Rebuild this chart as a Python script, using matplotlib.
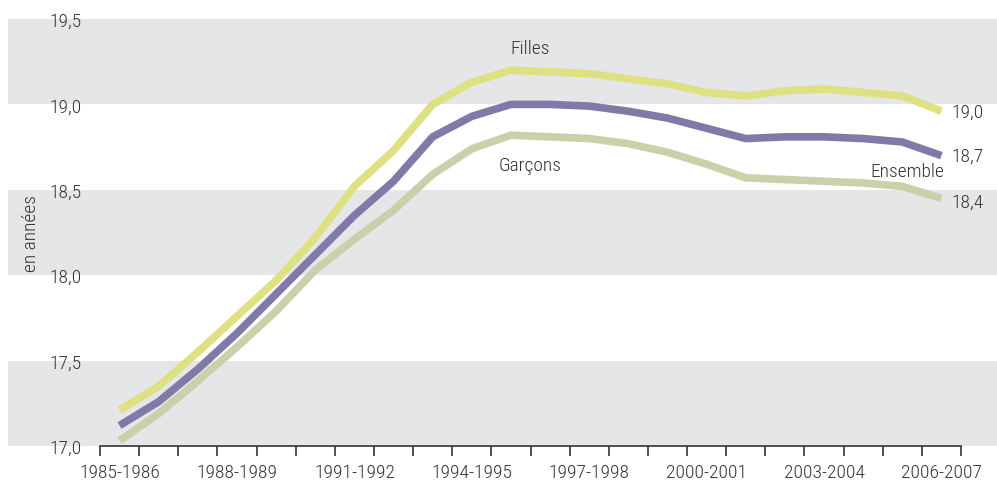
import numpy as np
import matplotlib.pyplot as plt
from matplotlib import font_manager

# police étroite si disponible
noms = {(f.name, f.stretch) for f in font_manager.fontManager.ttflist}
famille, etroit = 'DejaVu Sans', 'normal'
for nom in ['Liberation Sans Narrow', 'Roboto Condensed', 'Open Sans Condensed', 'DejaVu Sans', 'Roboto']:
    st = [s for (n, s) in noms if n == nom]
    cond = [s for s in st if s not in ('normal', 400, 500)]
    if nom in ('Liberation Sans Narrow', 'Roboto Condensed', 'Open Sans Condensed') and st:
        famille, etroit = nom, 'normal'
        break
    if cond:
        famille, etroit = nom, cond[0]
        break
plt.rcParams['font.family'] = [famille, 'DejaVu Sans']
plt.rcParams['font.stretch'] = etroit
plt.rcParams['font.weight'] = 'light'
plt.rcParams['axes.labelweight'] = 'light'

# années scolaires
annees = ['1985-1986', '1986-1987', '1987-1988', '1988-1989', '1989-1990', '1990-1991',
          '1991-1992', '1992-1993', '1993-1994', '1994-1995', '1995-1996', '1996-1997',
          '1997-1998', '1998-1999', '1999-2000', '2000-2001', '2001-2002', '2002-2003',
          '2003-2004', '2004-2005', '2005-2006', '2006-2007']

filles = [17.21, 17.35, 17.55, 17.76, 17.97, 18.22, 18.52, 18.73, 19.00, 19.13, 19.20,
          19.19, 19.18, 19.15, 19.12, 19.07, 19.05, 19.08, 19.09, 19.07, 19.05, 18.96]
ensemble = [17.12, 17.26, 17.45, 17.66, 17.89, 18.12, 18.35, 18.55, 18.81, 18.93, 19.00,
            19.00, 18.99, 18.96, 18.92, 18.86, 18.80, 18.81, 18.81, 18.80, 18.78, 18.70]
garcons = [17.03, 17.19, 17.38, 17.58, 17.79, 18.03, 18.21, 18.38, 18.59, 18.74, 18.82,
           18.81, 18.80, 18.77, 18.72, 18.65, 18.57, 18.56, 18.55, 18.54, 18.52, 18.45]

fin_labels = ['19,0', '18,7', '18,4']
y_ticks = [17.0, 17.5, 18.0, 18.5, 19.0, 19.5]

c_filles = '#dfe082'
c_ens = '#8179a8'
c_gar = '#c9d1aa'
c_txt = '#333333'
c_band = '#e5e6e8'

fig = plt.figure(figsize=(9.97, 4.81), dpi=100)
ax = fig.add_axes([100 / 997, 1 - 447 / 481, 861 / 997, 427 / 481])

x = np.arange(len(annees))

# bandes grises
for y0 in [17.0, 18.0, 19.0]:
    ax.axhspan(y0, y0 + 0.5, xmin=-0.107, xmax=1.05, color=c_band, lw=0, zorder=0, clip_on=False)

ax.plot(x, garcons, color=c_gar, lw=5.5, solid_capstyle='butt', zorder=2)
ax.plot(x, ensemble, color=c_ens, lw=5.5, solid_capstyle='butt', zorder=3)
ax.plot(x, filles, color=c_filles, lw=5.5, solid_capstyle='butt', zorder=2)

ax.set_xlim(-0.5, len(annees) - 0.5)
ax.set_ylim(17.0, 19.5)

ax.set_xticks(x[::3])
ax.set_xticklabels(annees[::3])
ax.set_xticks(np.arange(-0.5, len(annees)), minor=True)
ax.tick_params(axis='x', which='major', length=0, pad=12, labelsize=14, colors=c_txt)
ax.tick_params(axis='x', which='minor', length=7, width=1.2, direction='out', color='#333333')

ax.set_yticks(y_ticks)
ax.set_yticklabels([f'{v:.1f}'.replace('.', ',') for v in y_ticks])
ax.tick_params(axis='y', length=0, pad=13, labelsize=14, colors=c_txt)

for s in ['top', 'right', 'left']:
    ax.spines[s].set_visible(False)
ax.spines['bottom'].set_color('#333333')
ax.spines['bottom'].set_linewidth(1.2)
ax.patch.set_alpha(0)

ax.yaxis.set_label_coords(-60 / 861, 0.5)
ax.set_ylabel('en années', fontsize=14, color=c_txt)

ax.text(10.5, 19.33, 'Filles', fontsize=14, color=c_txt, ha='center', va='center')
ax.text(10.5, 18.645, 'Garçons', fontsize=14, color=c_txt, ha='center', va='center')
ax.text(20.14, 18.61, 'Ensemble', fontsize=14, color=c_txt, ha='center', va='center')
for lab, yv in zip(fin_labels, [18.955, 18.70, 18.43]):
    ax.text(21.26, yv, lab, fontsize=14, color=c_txt, ha='left', va='center', clip_on=False)

plt.savefig('out.png', dpi=100)
